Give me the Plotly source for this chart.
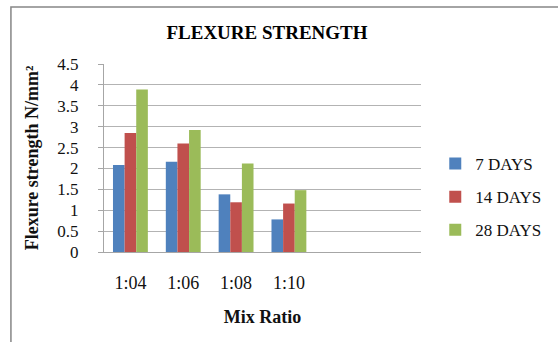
import plotly.graph_objects as go

# Mix ratios and flexure strength (N/mm²) at each curing age
mix_ratios = ["1:04", "1:06", "1:08", "1:10"]
days_7 = [2.08, 2.16, 1.38, 0.78]
days_14 = [2.85, 2.60, 1.19, 1.16]
days_28 = [3.89, 2.92, 2.12, 1.48]
series_names = ["7 DAYS", "14 DAYS", "28 DAYS"]
series_colors = ["#4F81BD", "#C0504D", "#9BBB59"]
y_ticks = [0, 0.5, 1, 1.5, 2, 2.5, 3, 3.5, 4, 4.5]
n_slots = 6  # axis reserves room for six category slots

FONT = "Liberation Serif, Times New Roman, serif"
positions = list(range(len(mix_ratios)))

fig = go.Figure()
for name, vals, col in zip(series_names, [days_7, days_14, days_28], series_colors):
    fig.add_trace(go.Bar(x=positions, y=vals, name=name, marker_color=col,
                         marker_line_width=0, legendgroup=name))

fig.update_layout(
    width=558, height=342,
    margin=dict(l=104, r=127, t=64, b=90),
    paper_bgcolor="white", plot_bgcolor="white",
    barmode="group", bargap=0.34, bargroupgap=0,
    font=dict(family=FONT, color="#111111", size=16),
    title=dict(text="<b>FLEXURE STRENGTH</b>", x=267 / 558, xanchor="center",
               y=1 - 32 / 342, yanchor="middle",
               font=dict(family=FONT, size=19, color="#000000")),
    legend=dict(x=1.045, xanchor="left", y=(252 - 197) / 188, yanchor="middle",
                font=dict(family=FONT, size=17), itemwidth=30,
                tracegroupgap=8, bgcolor="rgba(0,0,0,0)"),
    showlegend=True,
)

fig.update_xaxes(
    range=[-0.5, n_slots - 0.5],
    tickmode="array", tickvals=positions, ticktext=mix_ratios,
    showgrid=False, showline=True, linecolor="#A6A6A6", linewidth=1,
    ticks="", ticklabelstandoff=14,
    tickfont=dict(family=FONT, size=18),
    title=dict(text="<b>Mix Ratio</b>", font=dict(family=FONT, size=18), standoff=18),
    zeroline=False,
)
fig.update_yaxes(
    range=[0, 4.5], tickmode="array", tickvals=y_ticks,
    ticktext=[f"{v:g}" for v in y_ticks],
    showgrid=True, gridcolor="#B3B3B3", gridwidth=1,
    showline=True, linecolor="#A6A6A6", linewidth=1,
    ticks="outside", ticklen=5, tickcolor="#A6A6A6",
    ticklabelstandoff=16,
    tickfont=dict(family=FONT, size=17),
    title=dict(text="<b>Flexure strength N/mm²</b>", font=dict(family=FONT, size=18),
               standoff=14),
    zeroline=False,
)

# chart frame
fig.add_shape(type="rect", xref="paper", yref="paper",
              x0=(8 - 104) / 327, x1=1.6, y0=-0.6, y1=(252 - 7) / 188,
              line=dict(color="#868686", width=1.5), fillcolor="rgba(0,0,0,0)",
              layer="below")

fig.write_html("out.html")
